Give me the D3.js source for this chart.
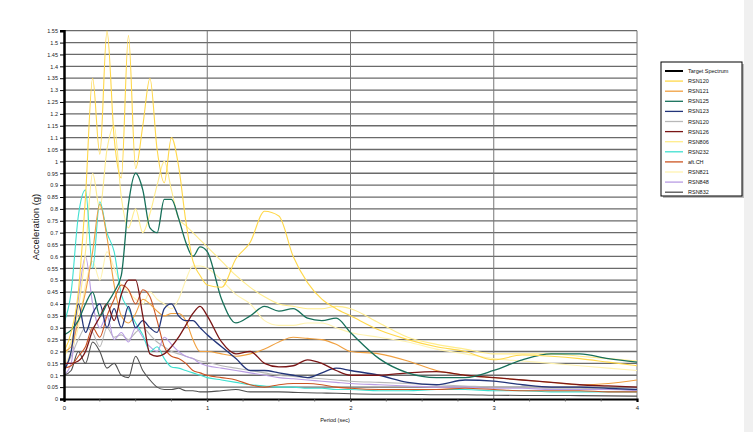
<!DOCTYPE html>
<html>
<head>
<meta charset="utf-8">
<script src="https://cdnjs.cloudflare.com/ajax/libs/d3/7.8.5/d3.min.js"></script>
<style>
  body { margin: 0; background: #fff; }
  text { font-family: "Liberation Sans", Arial, sans-serif; }
</style>
</head>
<body>
<div id="chart"></div>
<script>
// periods (sec) shared by every record
var periods = [0, 0.05, 0.1, 0.15, 0.2, 0.25, 0.3, 0.35, 0.4, 0.45, 0.5, 0.55, 0.6, 0.65, 0.7, 0.75, 0.8, 0.85, 0.9, 0.95, 1,
  1.1, 1.2, 1.3, 1.4, 1.5, 1.6, 1.7, 1.8, 1.9, 2, 2.2, 2.4, 2.6, 2.8, 3, 3.2, 3.4, 3.6, 3.8, 4];

// spectral acceleration (g)
var rsn120  = [0.20,0.28,0.45,0.85,1.35,1.03,1.55,1.10,0.93,1.53,0.97,1.15,1.35,1.05,0.91,1.10,0.98,0.75,0.58,0.52,0.48, 0.47,0.59,0.66,0.79,0.77,0.60,0.49,0.42,0.38,0.35, 0.29,0.25,0.22,0.20,0.165,0.185,0.18,0.17,0.155,0.14];
var rsn121  = [0.20,0.22,0.33,0.45,0.62,0.82,0.68,0.48,0.35,0.32,0.36,0.42,0.40,0.37,0.35,0.36,0.36,0.33,0.25,0.20,0.20, 0.19,0.18,0.19,0.21,0.24,0.26,0.255,0.25,0.23,0.20, 0.19,0.16,0.12,0.10,0.09,0.08,0.07,0.06,0.065,0.08];
var rsn125  = [0.27,0.29,0.33,0.40,0.45,0.35,0.40,0.45,0.52,0.82,0.95,0.88,0.72,0.70,0.84,0.84,0.76,0.66,0.60,0.64,0.62, 0.42,0.32,0.35,0.39,0.37,0.38,0.34,0.33,0.34,0.28, 0.17,0.11,0.09,0.09,0.12,0.165,0.19,0.19,0.17,0.155];
var rsn123  = [0.12,0.20,0.40,0.28,0.36,0.40,0.30,0.38,0.30,0.39,0.30,0.33,0.30,0.28,0.38,0.40,0.35,0.33,0.33,0.30,0.27, 0.22,0.17,0.12,0.12,0.11,0.10,0.09,0.11,0.13,0.12, 0.10,0.07,0.06,0.08,0.075,0.06,0.05,0.05,0.045,0.04];
var rsn120b = [0.12,0.18,0.25,0.30,0.28,0.22,0.30,0.26,0.27,0.25,0.28,0.30,0.27,0.24,0.22,0.20,0.19,0.18,0.17,0.16,0.155, 0.14,0.13,0.12,0.11,0.10,0.095,0.09,0.085,0.08,0.075, 0.07,0.065,0.06,0.055,0.05,0.05,0.045,0.045,0.04,0.04];
var rsn126  = [0.15,0.15,0.16,0.20,0.29,0.345,0.40,0.33,0.44,0.50,0.50,0.35,0.19,0.18,0.19,0.22,0.26,0.31,0.36,0.39,0.35, 0.24,0.19,0.20,0.15,0.135,0.14,0.165,0.15,0.12,0.10, 0.10,0.11,0.115,0.10,0.09,0.08,0.07,0.06,0.055,0.05];
var rsn806  = [0.18,0.24,0.38,0.62,0.95,0.80,1.05,1.15,0.85,0.72,0.80,0.70,0.78,0.90,1.00,0.88,0.76,0.73,0.70,0.67,0.64, 0.58,0.52,0.47,0.43,0.40,0.39,0.38,0.38,0.39,0.38, 0.32,0.26,0.23,0.21,0.19,0.19,0.19,0.18,0.17,0.16];
var rsn232  = [0.32,0.45,0.77,0.88,0.55,0.83,0.70,0.62,0.44,0.38,0.32,0.27,0.20,0.22,0.17,0.135,0.13,0.12,0.11,0.10,0.09, 0.08,0.07,0.06,0.055,0.05,0.05,0.045,0.045,0.04,0.04, 0.035,0.035,0.04,0.04,0.035,0.035,0.03,0.03,0.03,0.03];
var aftCH   = [0.13,0.14,0.18,0.22,0.30,0.26,0.35,0.42,0.48,0.46,0.40,0.46,0.43,0.33,0.22,0.18,0.17,0.15,0.12,0.11,0.10, 0.09,0.08,0.06,0.05,0.06,0.065,0.065,0.06,0.05,0.045, 0.04,0.04,0.04,0.045,0.04,0.035,0.035,0.035,0.03,0.03];
var rsn821  = [0.14,0.20,0.30,0.48,0.58,0.50,0.62,0.55,0.48,0.45,0.42,0.40,0.45,0.42,0.40,0.38,0.42,0.50,0.56,0.56,0.55, 0.50,0.44,0.40,0.33,0.31,0.31,0.32,0.32,0.30,0.28, 0.26,0.24,0.21,0.19,0.17,0.16,0.15,0.14,0.13,0.12];
var rsn848  = [0.10,0.15,0.42,0.60,0.40,0.30,0.35,0.25,0.28,0.24,0.30,0.26,0.22,0.20,0.26,0.23,0.20,0.18,0.17,0.15,0.14, 0.13,0.12,0.11,0.10,0.09,0.085,0.08,0.075,0.07,0.065, 0.06,0.055,0.05,0.05,0.045,0.045,0.04,0.04,0.04,0.035];
var rsn832  = [0.10,0.12,0.20,0.15,0.24,0.20,0.13,0.15,0.10,0.09,0.18,0.12,0.08,0.05,0.04,0.04,0.045,0.035,0.035,0.03,0.03, 0.035,0.04,0.03,0.03,0.03,0.028,0.026,0.025,0.024,0.022, 0.02,0.02,0.018,0.018,0.016,0.015,0.015,0.014,0.013,0.012];

var legendNames  = ["Target Spectrum", "RSN120", "RSN121", "RSN125", "RSN123", "RSN120", "RSN126", "RSN806", "RSN232", "aft.CH", "RSN821", "RSN848", "RSN832"];
var legendColors = ["#000000", "#ffd84a", "#f0a040", "#17705a", "#23357a", "#b8b8b8", "#7a1616", "#ffec8c", "#3fe0d0", "#cc5522", "#fff3b0", "#b99ce3", "#505050"];
// series in legend order (target spectrum has no curve in the picture)
var seriesValues = [null, rsn120, rsn121, rsn125, rsn123, rsn120b, rsn126, rsn806, rsn232, aftCH, rsn821, rsn848, rsn832];
// drawing order, back to front
var drawOrder = [5, 11, 10, 7, 8, 12, 9, 2, 4, 6, 3, 1];

var yTicks = d3.range(0, 32).map(function(i) { return +(i * 0.05).toFixed(2); });
var xTicks = [0, 1, 2, 3, 4];

var w = 753, h = 432;
var svg = d3.select("#chart").append("svg").attr("width", w).attr("height", h);

svg.append("rect").attr("x", 744).attr("y", 0).attr("width", 9).attr("height", h).attr("fill", "#f0f0f0");

var x = d3.scaleLinear().domain([0, 4]).range([64, 637]);
var y = d3.scaleLinear().domain([0, 1.55]).range([399, 30.7]);

// grid
svg.append("g").selectAll("line").data(yTicks.slice(1)).enter().append("line")
  .attr("x1", x(0)).attr("x2", x(4))
  .attr("y1", function(d) { return y(d); }).attr("y2", function(d) { return y(d); })
  .attr("stroke", "#6a6a6a").attr("stroke-width", 1.3);
svg.append("g").selectAll("line").data(xTicks.slice(1)).enter().append("line")
  .attr("x1", function(d) { return x(d); }).attr("x2", function(d) { return x(d); })
  .attr("y1", y(1.55)).attr("y2", y(0))
  .attr("stroke", "#777").attr("stroke-width", 1);

// curves
var line = d3.line()
  .x(function(d) { return x(d[0]); })
  .y(function(d) { return y(d[1]); })
  .curve(d3.curveMonotoneX);

svg.append("g").selectAll("path").data(drawOrder).enter().append("path")
  .attr("d", function(i) { return line(periods.map(function(p, k) { return [p, seriesValues[i][k]]; })); })
  .attr("fill", "none")
  .attr("stroke", function(i) { return legendColors[i]; })
  .attr("stroke-width", function(i) { return (i == 3 || i == 6 || i == 4) ? 1.3 : 1.1; });

// axes
var yAxis = d3.axisLeft(y).tickValues(yTicks).tickSize(4).tickFormat(function(d) { return d3.format("")(d); });
var gy = svg.append("g").attr("transform", "translate(" + x(0) + ",0)").call(yAxis);
gy.select(".domain").attr("stroke", "#000").attr("stroke-width", 2.5);
gy.selectAll("text").attr("font-size", 5.5).attr("fill", "#222").attr("x", -6);

var xAxis = d3.axisBottom(x).tickValues(xTicks).tickSize(3).tickFormat(d3.format("d"));
var gx = svg.append("g").attr("transform", "translate(0," + y(0) + ")").call(xAxis);
gx.select(".domain").attr("stroke", "#000").attr("stroke-width", 2.2);
gx.selectAll("text").attr("font-size", 6).attr("fill", "#222").attr("y", 7);
gx.append("g").selectAll("line").data(d3.range(0.25, 4, 0.25)).enter().append("line")
  .attr("x1", function(d) { return x(d); }).attr("x2", function(d) { return x(d); })
  .attr("y1", 0).attr("y2", 2.5).attr("stroke", "#555").attr("stroke-width", 0.8);

svg.append("text").attr("transform", "translate(39,227) rotate(-90)")
  .attr("text-anchor", "middle").attr("font-size", 9.5).attr("fill", "#111")
  .text("Acceleration (g)");
svg.append("text").attr("x", 335).attr("y", 422)
  .attr("text-anchor", "middle").attr("font-size", 5.5).attr("fill", "#111")
  .text("Period (sec)");

// legend
var lg = svg.append("g");
lg.append("rect").attr("x", 663).attr("y", 64).attr("width", 81).attr("height", 134).attr("fill", "#bbb");
lg.append("rect").attr("x", 661).attr("y", 62).attr("width", 81).attr("height", 134)
  .attr("fill", "#fff").attr("stroke", "#000").attr("stroke-width", 1);
var items = lg.selectAll("g.item").data(legendNames).enter().append("g")
  .attr("transform", function(d, i) { return "translate(0," + (71 + i * 10.1) + ")"; });
items.append("line").attr("x1", 665).attr("x2", 683).attr("y1", 0).attr("y2", 0)
  .attr("stroke", function(d, i) { return legendColors[i]; })
  .attr("stroke-width", function(d, i) { return i == 0 ? 2 : 1.3; });
items.append("text").attr("x", 688).attr("y", 2).attr("font-size", 5.5).attr("fill", "#111")
  .text(function(d) { return d; });
</script>
</body>
</html>
